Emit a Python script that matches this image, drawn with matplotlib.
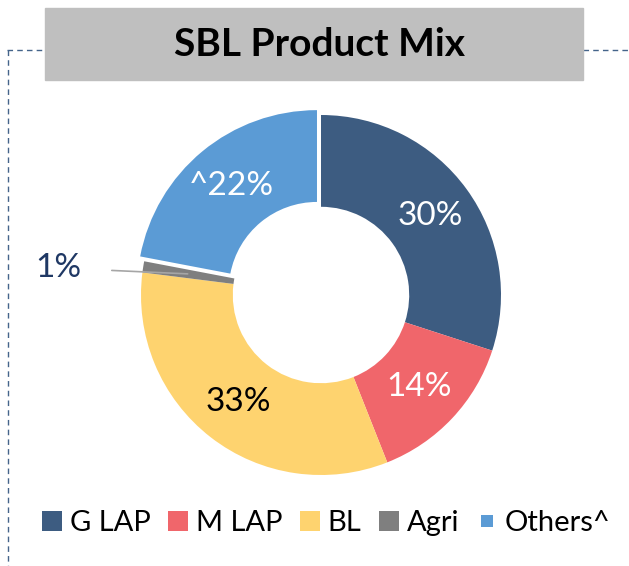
import numpy as np
import matplotlib
matplotlib.use("Agg")
from matplotlib import pyplot as plt
from matplotlib.patches import Rectangle
from matplotlib.lines import Line2D

plt.rcParams['font.family'] = ['Lato', 'DejaVu Sans']

# data
categories = ['G LAP', 'M LAP', 'BL', 'Agri', 'Others^']
shares = [30, 14, 33, 1, 22]
label_texts = ['30%', '14%', '33%', '1%', '^22%']
colors = ['#3D5C81', '#F0666B', '#FED36F', '#7F7F7F', '#5B9BD5']
label_colors = ['white', 'white', 'black', '#1F3864', 'white']
explode = [0, 0, 0, 0, 0.035]

W, H = 629, 566
fig = plt.figure(figsize=(W / 100, H / 100), dpi=100)
fig.patch.set_facecolor('white')

# dashed frame (top + left)
frame_col = '#44648A'
fig.add_artist(Line2D([7 / W, 45 / W], [1 - 50 / H, 1 - 50 / H], color=frame_col,
                      lw=1, ls=(0, (4, 3)), transform=fig.transFigure))
fig.add_artist(Line2D([583 / W, 1], [1 - 50 / H, 1 - 50 / H], color=frame_col,
                      lw=1, ls=(0, (4, 3)), transform=fig.transFigure))
fig.add_artist(Line2D([8 / W, 8 / W], [1 - 50 / H, 0], color=frame_col,
                      lw=1, ls=(0, (4, 3)), transform=fig.transFigure))

# title box
fig.add_artist(Rectangle((45 / W, 1 - 80 / H), 538 / W, 72 / H, color='#BFBFBF',
                         transform=fig.transFigure, zorder=2))
fig.text(319 / W, 1 - 45 / H, 'SBL Product Mix', ha='center', va='center',
         fontsize=28, fontweight='bold', color='black', zorder=3)

# donut
cx, cy, R = 321, 295, 180
ax = fig.add_axes([(cx - R) / W, (H - cy - R) / H, 2 * R / W, 2 * R / H])
wedges, _ = ax.pie(shares, colors=colors, startangle=90, counterclock=False,
                   explode=explode, radius=1,
                   wedgeprops=dict(width=0.51, linewidth=0))
ax.set_xlim(-1, 1)
ax.set_ylim(-1, 1)
ax.axis('off')

for i, w in enumerate(wedges):
    mid = np.deg2rad((w.theta1 + w.theta2) / 2)
    ox, oy = w.center
    x = ox + 0.75 * np.cos(mid)
    y = oy + 0.75 * np.sin(mid)
    if shares[i] < 5:
        ax.annotate(label_texts[i], xy=(x, y), xytext=(-1.46, 0.15),
                    ha='center', va='center', fontsize=24, color=label_colors[i],
                    arrowprops=dict(arrowstyle='-', color='#A6A6A6', lw=1.2,
                                    shrinkA=20, shrinkB=0),
                    annotation_clip=False)
    else:
        ax.text(x, y, label_texts[i], ha='center', va='center', fontsize=24,
                color=label_colors[i])

# legend
handles = []
for i, c in enumerate(colors):
    ms = 8.5 if i == 4 else 15
    handles.append(Line2D([], [], marker='s', ls='', color=c, markersize=ms,
                          markeredgewidth=0))
fig.legend(handles, categories, loc='center', bbox_to_anchor=(326 / W, 1 - 523 / H),
           ncol=5, frameon=False, fontsize=21, handlelength=0.7, handletextpad=0.25,
           columnspacing=0.6)

fig.savefig('out.png', dpi=100)
